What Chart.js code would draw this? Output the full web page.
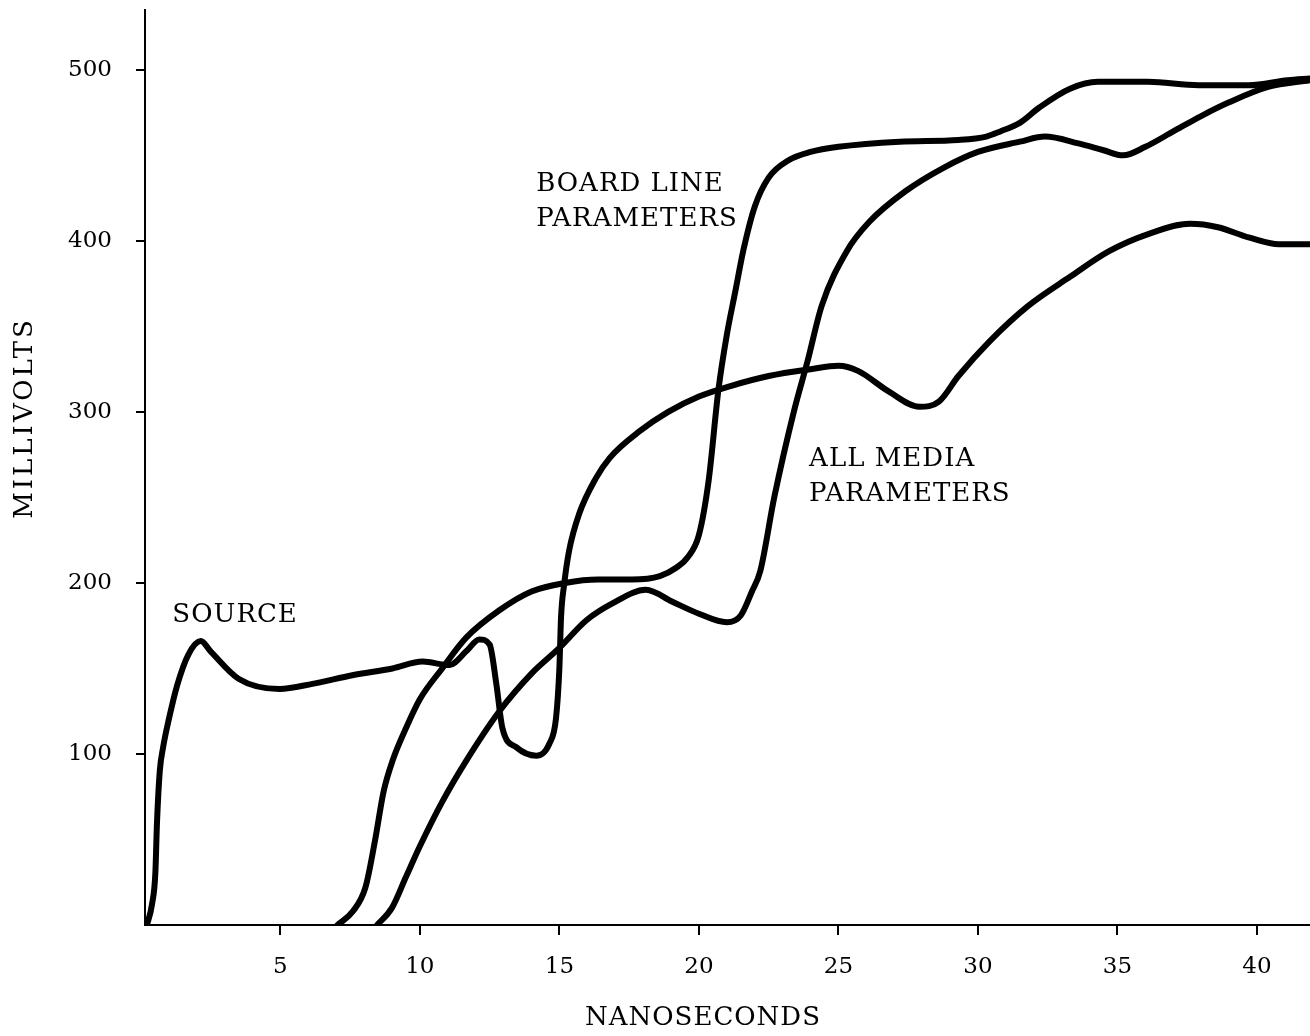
<!DOCTYPE html>
<html>
<head>
<meta charset="utf-8">
<script src="https://cdn.jsdelivr.net/npm/chart.js@4.4.1/dist/chart.umd.min.js"></script>
<style>
  html, body { margin: 0; padding: 0; background: #fff; }
  #wrap { width: 1310px; height: 1036px; position: relative; }
</style>
</head>
<body>
<div id="wrap"><canvas id="pulseChart"></canvas></div>
<script>
// --------------------
// Data (ns, mV)
// --------------------
const sourceNs = [0.22, 0.4, 0.52, 0.58, 0.68, 0.8, 1.0, 1.3, 1.7, 2.15, 2.5, 3.5, 4.97, 6.15, 7.58, 9.02, 10.1, 11.06, 11.66, 12.13, 12.5, 12.74, 12.96, 13.45, 14.17, 14.64, 14.88, 15.0, 15.06, 15.17, 15.35, 15.7, 16.3, 16.8, 17.9, 18.9, 20.0, 21.1, 22.5, 24.0, 25.0, 25.7, 26.8, 27.9, 28.6, 29.3, 30.4, 31.8, 33.3, 34.7, 36.1, 37.6, 38.6, 39.7, 40.8, 41.9];
const sourceMv = [0, 12, 30, 60, 90, 104, 120, 140, 158, 166, 160, 144, 138, 141, 146, 150, 154, 152, 160, 167, 164, 141, 115, 104, 99, 106, 121, 150, 180, 199, 219, 240, 261, 273, 289, 300, 309, 315, 321, 325, 327, 324, 312, 303, 306, 321, 341, 362, 379, 394, 404, 410, 408, 402, 398, 398];

const boardNs = [7.05, 7.6, 8.05, 8.4, 8.7, 9.02, 9.5, 10.0, 10.8, 11.66, 12.85, 14.0, 15.2, 16.4, 17.6, 18.6, 19.2, 19.6, 20.0, 20.35, 20.7, 21.0, 21.3, 21.6, 22.0, 22.5, 23.2, 24.0, 25.0, 27.2, 29.3, 30.3, 30.8, 31.5, 32.2, 33.3, 34.3, 36.1, 37.9, 39.7, 41.1, 41.9];
const boardMv = [0, 8, 22, 50, 78, 96, 115, 132, 150, 168, 184, 195, 200, 202, 202, 204, 209, 215, 228, 260, 313, 345, 370, 395, 420, 437, 447, 452, 455, 458, 459, 461, 464, 469, 478, 489, 493, 493, 491, 491, 494, 495];

const mediaNs = [8.47, 9.0, 9.5, 10.0, 10.8, 11.66, 12.85, 14.0, 15.0, 15.96, 16.9, 18.1, 19.05, 20.0, 21.0, 21.5, 21.9, 22.2, 22.7, 23.4, 23.9, 24.4, 25.3, 26.1, 27.4, 28.8, 30.0, 31.5, 32.4, 33.6, 34.5, 35.2, 36.0, 37.0, 38.0, 39.0, 40.4, 41.9];
const mediaMv = [0, 10, 28, 46, 72, 96, 125, 147, 162, 178, 188, 196, 189, 182, 177, 181, 195, 207, 250, 300, 330, 362, 394, 411, 429, 443, 452, 458, 461, 457, 453, 450, 455, 464, 473, 481, 490, 494];

const xTicks = [5, 10, 15, 20, 25, 30, 35, 40];
const yTicks = [100, 200, 300, 400, 500];

// labels placed at data coordinates
const notes = [
  { text: "SOURCE", x: 1.13, y: 181 },
  { text: "BOARD LINE", x: 14.17, y: 433 },
  { text: "PARAMETERS", x: 14.17, y: 412.5 },
  { text: "ALL MEDIA", x: 23.95, y: 272.6 },
  { text: "PARAMETERS", x: 23.95, y: 251.6 }
];

const FONT = "'DejaVu Serif', 'Liberation Serif', serif";

const toPoints = (xs, ys) => xs.map((x, i) => ({ x: x, y: ys[i] }));

const lineStyle = {
  borderColor: "#000",
  borderWidth: 6,
  pointRadius: 0,
  fill: false,
  cubicInterpolationMode: "monotone",
  borderCapStyle: "round",
  borderJoinStyle: "round"
};

// axis titles + curve labels
const textPlugin = {
  id: "textPlugin",
  afterDraw(chart) {
    const ctx = chart.ctx;
    const xs = chart.scales.x, ys = chart.scales.y;
    ctx.save();
    ctx.fillStyle = "#000";
    ctx.font = "26px " + FONT;
    ctx.letterSpacing = "1px";
    ctx.textBaseline = "middle";
    ctx.textAlign = "left";
    notes.forEach(n => {
      ctx.fillText(n.text, xs.getPixelForValue(n.x), ys.getPixelForValue(n.y));
    });
    ctx.textAlign = "center";
    ctx.fillText("NANOSECONDS", 703, 1018);
    ctx.letterSpacing = "3px";
    ctx.translate(25, 418);
    ctx.rotate(-Math.PI / 2);
    ctx.fillText("MILLIVOLTS", 0, 0);
    ctx.restore();
  }
};

const ctx = document.getElementById("pulseChart").getContext("2d");
new Chart(ctx, {
  type: "line",
  data: {
    datasets: [
      { label: "Source", data: toPoints(sourceNs, sourceMv), ...lineStyle },
      { label: "Board line parameters", data: toPoints(boardNs, boardMv), ...lineStyle },
      { label: "All media parameters", data: toPoints(mediaNs, mediaMv), ...lineStyle }
    ]
  },
  options: {
    responsive: true,
    maintainAspectRatio: false,
    devicePixelRatio: 1,
    animation: false,
    layout: { padding: { top: 10, right: 0, left: 0, bottom: 0 } },
    plugins: {
      legend: { display: false },
      tooltip: { enabled: false }
    },
    scales: {
      x: {
        type: "linear",
        min: 0.15,
        max: 41.9,
        afterBuildTicks: s => { s.ticks = xTicks.map(v => ({ value: v })); },
        afterFit: s => { s.height = 111; s.paddingLeft = 0; s.paddingRight = 0; },
        border: { color: "#000", width: 2 },
        grid: { drawOnChartArea: false, drawTicks: true, tickLength: 10, color: "#000", lineWidth: 2 },
        ticks: { color: "#000", padding: 18, font: { family: FONT, size: 23 } }
      },
      y: {
        type: "linear",
        min: 0,
        max: 535,
        afterBuildTicks: s => { s.ticks = yTicks.map(v => ({ value: v })); },
        afterFit: s => { s.width = 145; s.paddingTop = 0; s.paddingBottom = 0; },
        border: { color: "#000", width: 2 },
        grid: { drawOnChartArea: false, drawTicks: true, tickLength: 9, color: "#000", lineWidth: 2 },
        ticks: { color: "#000", padding: 24, font: { family: FONT, size: 23 } }
      }
    }
  },
  plugins: [textPlugin]
});
</script>
</body>
</html>
